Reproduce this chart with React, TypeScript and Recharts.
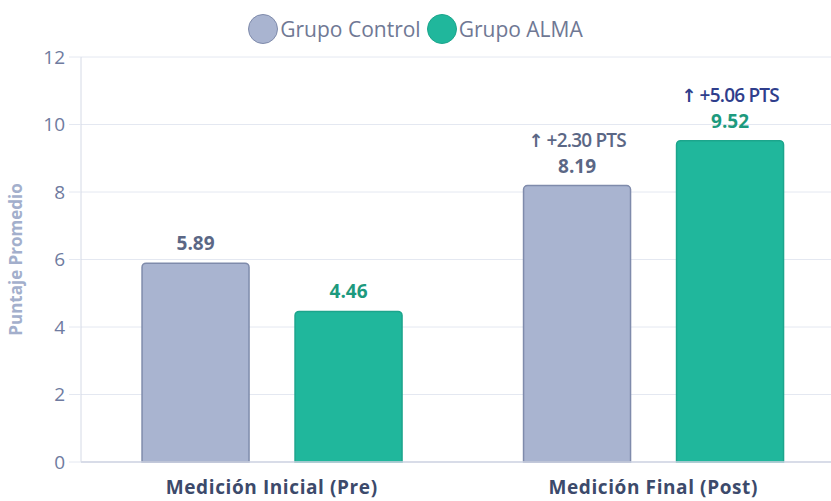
import { BarChart, Bar, XAxis, YAxis, CartesianGrid, Legend, LabelList } from 'recharts';

const categories = ['Medición Inicial (Pre)', 'Medición Final (Post)'];
const controlValues = [5.89, 8.19];
const almaValues = [4.46, 9.52];
const controlGain = ['', '+2.30'];
const almaGain = ['', '+5.06'];
const yTicks = [0, 2, 4, 6, 8, 10, 12];

const data = categories.map((name, i) => ({
  name,
  control: controlValues[i],
  alma: almaValues[i],
}));

const FONT = '"Open Sans", sans-serif';

const makeLabel = (valueColor: string, gainColor: string, gains: string[]) =>
  (props: any) => {
    const { x, y, width, value, index } = props;
    const cx = x + width / 2;
    const gain = gains[index];
    return (
      <g>
        {gain && (
          <text x={cx} y={y - 39} textAnchor="middle" fill={gainColor} fontFamily={FONT}
            fontSize={19} fontWeight={600} letterSpacing={-0.8}>
            <tspan fontWeight={800} fontFamily="DejaVu Sans" fontSize={18}>↑</tspan> {gain} PTS
          </text>
        )}
        <text x={cx} y={y - 13} textAnchor="middle" fill={valueColor} fontFamily={FONT}
          fontSize={19} fontWeight={700}>
          {Number(value).toFixed(2)}
        </text>
      </g>
    );
  };

const LegendContent = () => (
  <div style={{ display: 'flex', justifyContent: 'center', gap: 6, fontFamily: FONT, fontSize: 21, color: '#6f7894' }}>
    {[
      { name: 'Grupo Control', fill: '#a9b4d0', stroke: '#7f8bab' },
      { name: 'Grupo ALMA', fill: '#20b79c', stroke: '#1ca58c' },
    ].map(it => (
      <span key={it.name} style={{ display: 'flex', alignItems: 'center' }}>
        <span style={{
          width: 28, height: 28, borderRadius: '50%', background: it.fill,
          border: `1.5px solid ${it.stroke}`, display: 'inline-block', marginRight: 2,
        }} />
        {it.name}
      </span>
    ))}
  </div>
);

export default function App() {
  return (
    <div style={{ position: 'absolute', left: 0, top: 0, width: 831, height: 501, overflow: 'hidden', background: '#fff' }}>
      <BarChart width={844} height={501} data={data} barGap={46} barCategoryGap="16%"
        margin={{ top: 57, right: 0, left: 0, bottom: 0 }}>
        <CartesianGrid vertical={false} stroke="#e4e8f1" />
        <XAxis dataKey="name" height={39} tickLine={false} axisLine={{ stroke: '#cfd5e3', strokeWidth: 1.5 }}
          tickMargin={13}
          tick={{ fill: '#3c4a6b', fontSize: 19, fontWeight: 700, fontFamily: FONT, letterSpacing: 0.6 }} />
        <YAxis width={81} domain={[0, 12]} ticks={yTicks} tickSize={12} tickMargin={4}
          tickLine={{ stroke: '#e4e8f1' }} axisLine={{ stroke: '#d5dae6' }}
          tick={{ fill: '#6f7ba0', fontSize: 19, fontWeight: 500, fontFamily: FONT }}
          label={{ value: 'Puntaje Promedio', angle: -90, position: 'insideLeft', offset: 16,
            style: { fill: '#a3afcc', fontSize: 17, fontWeight: 700, fontFamily: FONT, textAnchor: 'middle' } }} />
        <Legend verticalAlign="middle" content={<LegendContent />}
          wrapperStyle={{ top: 14, left: 0, width: 831 }} />
        <Bar dataKey="control" name="Grupo Control" fill="#a9b4d0" stroke="#7f8bab" strokeWidth={1.5}
          radius={[4, 4, 0, 0]} isAnimationActive={false}>
          <LabelList dataKey="control" content={makeLabel('#5b6785', '#5b6785', controlGain)} />
        </Bar>
        <Bar dataKey="alma" name="Grupo ALMA" fill="#20b79c" stroke="#1ca58c" strokeWidth={1.5}
          radius={[4, 4, 0, 0]} isAnimationActive={false}>
          <LabelList dataKey="alma" content={makeLabel('#1d9a7e', '#2f3e8c', almaGain)} />
        </Bar>
      </BarChart>
    </div>
  );
}
